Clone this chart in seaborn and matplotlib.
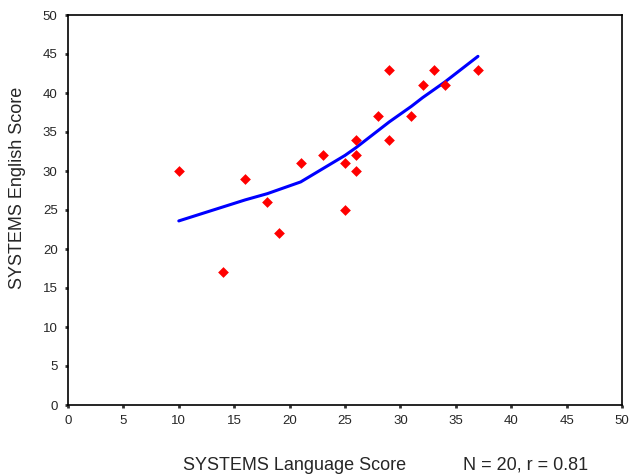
import matplotlib
matplotlib.use("Agg")
import matplotlib.pyplot as plt
import seaborn as sns
import pandas as pd

# data
language = [10, 14, 16, 18, 19, 21, 23, 25, 25, 26, 26, 26, 28, 29, 29, 31, 32, 33, 34, 37]
english = [30, 17, 29, 26, 22, 31, 32, 25, 31, 34, 32, 30, 37, 43, 34, 37, 41, 43, 41, 43]

fit_x = [10, 14, 16, 18, 19, 21, 23, 25, 26, 28, 29, 31, 32, 33, 34, 37]
fit_y = [23.6, 25.4, 26.3, 27.1, 27.6, 28.6, 30.3, 32.0, 33.0, 35.2, 36.3, 38.3, 39.4, 40.4, 41.4, 44.7]

x_ticks = [0, 5, 10, 15, 20, 25, 30, 35, 40, 45, 50]
y_ticks = [0, 5, 10, 15, 20, 25, 30, 35, 40, 45, 50]

sns.set_style("white")
plt.rcParams['font.family'] = ['Liberation Sans', 'DejaVu Sans']

df = pd.DataFrame({"lang": language, "eng": english})
fit = pd.DataFrame({"x": fit_x, "y": fit_y})

fig = plt.figure(figsize=(6.3, 4.76), dpi=100)
ax = fig.add_axes([68 / 630, 1 - 405 / 476, (622 - 68) / 630, (405 - 15) / 476])

sns.lineplot(data=fit, x="x", y="y", ax=ax, color="#0000ff", linewidth=2.2, zorder=2)
sns.scatterplot(data=df, x="lang", y="eng", ax=ax, marker="D", color="#ff0000",
                s=30, edgecolor="#ff0000", linewidth=0, zorder=3)

ax.set_xlim(0, 50)
ax.set_ylim(0, 50)
ax.set_xticks(x_ticks)
ax.set_yticks(y_ticks)
ax.tick_params(axis="both", direction="out", length=2.5, width=2, color="#333333",
               labelsize=9.5, pad=5, bottom=True, left=True)
ax.set_xlabel("")
ax.set_ylabel("")
for s in ax.spines.values():
    s.set_color("black")
    s.set_linewidth(1.2)
    s.set_visible(True)

fig.text(18 / 630, 1 - 188 / 476, "SYSTEMS English Score", ha="center", va="center",
         rotation=90, fontsize=13)
fig.text(295 / 630, 1 - 465 / 476, "SYSTEMS Language Score", ha="center", va="center", fontsize=13)
fig.text(526 / 630, 1 - 465 / 476, "N = 20, r = 0.81", ha="center", va="center", fontsize=13)

fig.savefig("out.png", dpi=100)
